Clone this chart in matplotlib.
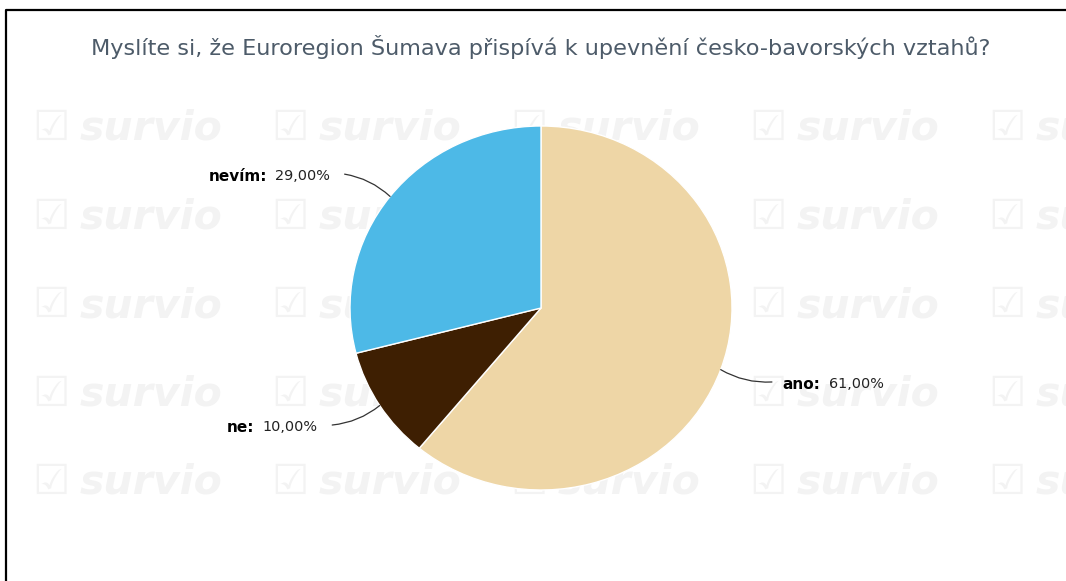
import matplotlib.pyplot as plt
from matplotlib.lines import Line2D
import numpy as np

title = 'Myslíte si, že Euroregion Šumava přispívá k upevnění česko-bavorských vztahů?'
answers = ['ano', 'ne', 'nevím']
shares = [61.0, 10.0, 29.0]
colors = ['#eed6a6', '#3e1f02', '#4db9e7']

W, H = 1066, 581
fig = plt.figure(figsize=(W / 100, H / 100), dpi=100)
fig.patch.set_facecolor('white')

# faint "survio" watermark grid behind the chart
mark = '#f3f3f3'
for k in range(5):
    row_y = 128 + 88.5 * k
    for j in range(5):
        col_x = 32 + 239 * j
        fig.text(col_x / W, 1 - (row_y + 12) / H, '☑', fontsize=30, color=mark,
                 va='baseline', ha='left', zorder=0)
        fig.text((col_x + 48) / W, 1 - (row_y + 12) / H, 'survio', fontsize=29.5,
                 fontstyle='italic', fontweight='bold', color=mark,
                 va='baseline', ha='left', zorder=0)

# frame lines (left + top)
fig.add_artist(Line2D([6 / W, 6 / W, 1], [0, 1 - 10 / H, 1 - 10 / H],
                      transform=fig.transFigure, color='black', lw=1.6))

fig.text(541 / W, 1 - 47 / H, title, ha='center', va='center', fontsize=16.1,
         color='#4d5b69', zorder=3)

# pie: centre and radii in pixels (slightly stretched horizontally like the source)
cx, cy, rx, ry = 541, 308, 191, 182
ax = fig.add_axes([(cx - rx) / W, (H - cy - ry) / H, 2 * rx / W, 2 * ry / H])
ax.set_zorder(5)
wedges, _ = ax.pie(shares, colors=colors, startangle=90, counterclock=False,
                   wedgeprops=dict(edgecolor='white', linewidth=1))
ax.set_aspect('auto')
ax.set_xlim(-1, 1)
ax.set_ylim(-1, 1)
ax.axis('off')

for w, name, v in zip(wedges, answers, shares):
    ang = np.deg2rad((w.theta1 + w.theta2) / 2)
    c, s = np.cos(ang), np.sin(ang)
    side = 1 if c > 0 else -1
    x1, y1 = 1.2 * c + 0.08 * side, 1.2 * s
    ax.annotate('', xy=(c, s), xytext=(x1, y1), annotation_clip=False,
                arrowprops=dict(arrowstyle='-', color='#333333', lw=0.9,
                                connectionstyle='arc3,rad=%.2f' % (0.15 * side * np.sign(s)),
                                shrinkA=0, shrinkB=0))
    pct = f'{v:.2f}%'.replace('.', ',')
    if side > 0:
        t = ax.annotate(name + ':', xy=(x1, y1), xytext=(7.5, -1.5), textcoords='offset points',
                        ha='left', va='center', fontsize=11, fontweight='bold',
                        color='black', annotation_clip=False)
        ax.annotate(pct, xy=(1, 0.5), xycoords=t, xytext=(6, 0), textcoords='offset points',
                    ha='left', va='center', fontsize=10.4, color='#222222',
                    annotation_clip=False)
    else:
        t = ax.annotate(pct, xy=(x1, y1), xytext=(-10.5, -1.5), textcoords='offset points',
                        ha='right', va='center', fontsize=10.4, color='#222222',
                        annotation_clip=False)
        ax.annotate(name + ':', xy=(0, 0.5), xycoords=t, xytext=(-6, 0),
                    textcoords='offset points', ha='right', va='center', fontsize=11,
                    fontweight='bold', color='black', annotation_clip=False)

fig.savefig('out.png', dpi=100, facecolor=fig.get_facecolor())
